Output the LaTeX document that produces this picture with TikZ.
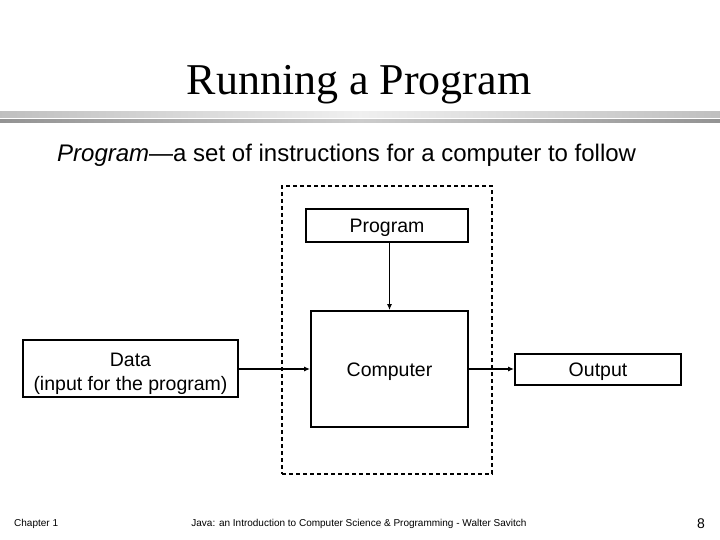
\documentclass[tikz,border=0pt]{standalone}
\usepackage{fontspec}
\setmainfont{Liberation Sans}
\newfontfamily\titlefont{Liberation Serif}
\usetikzlibrary{positioning, arrows.meta}
\tikzset{
  block/.style={rectangle, draw=black, line width=1.8pt, align=center, inner sep=0pt, text height=14pt, text depth=0pt, font=\fontsize{19.5}{24}\selectfont},
  frame/.style={rectangle, draw=black, line width=1.8pt, dash pattern=on 4pt off 3pt},
  arrow/.style={line width=1.6pt, -{Latex[length=6pt,width=5pt]}},
  footer/.style={inner sep=0pt, font=\fontsize{10}{10}\selectfont}
}
\begin{document}
\begin{tikzpicture}[x=1pt, y=-1pt]
  \useasboundingbox (0,0) rectangle (720,540);

  % === titulo y barra ===
  \node[anchor=base, inner sep=0pt] (title) at (359,95) {\titlefont\fontsize{44}{44}\selectfont Running a Program};
  \shade[left color=gray!50, right color=gray!50, middle color=gray!12] (0,112) rectangle (720,118);
  \shade[left color=gray!85, right color=gray!85, middle color=gray!40] (0,120) rectangle (720,123);
  \node[anchor=base west, inner sep=0pt, font=\fontsize{24}{24}\selectfont] (subtitle) at (57,162) {\textit{Program}---a set of instructions for a computer to follow};

  % === bloques ===
  \node[frame, minimum width=210pt, minimum height=288pt] (system) at (387,330) {};
  \node[block, minimum width=162pt, minimum height=33pt] (program) at (387,225.5) {Program};
  \node[block, minimum width=157pt, minimum height=116pt] (computer) at (389.5,369) {Computer};
  \node[block, minimum width=215pt, minimum height=57pt, text height=43pt, text depth=0pt] (data) at (130.5,368.5) {Data\\(input for the program)};
  \node[block, minimum width=166pt, minimum height=31pt] (output) at (598,369.5) {Output};

  \draw [arrow] (computer.north |- program.south) -- (computer.north);
  \draw [arrow] (computer.west -| data.east) -- (computer.west);
  \draw [arrow] (computer.east) -- (computer.east -| output.west);

  % === pie ===
  \node[footer, anchor=base west] (chapter) at (14,526) {Chapter 1};
  \node[footer, anchor=base] (book) at (359,526) {Java: an Introduction to Computer Science \& Programming - Walter Savitch};
  \node[inner sep=0pt, anchor=base, font=\fontsize{14}{14}\selectfont] (page) at (701,528) {8};
\end{tikzpicture}
\end{document}
